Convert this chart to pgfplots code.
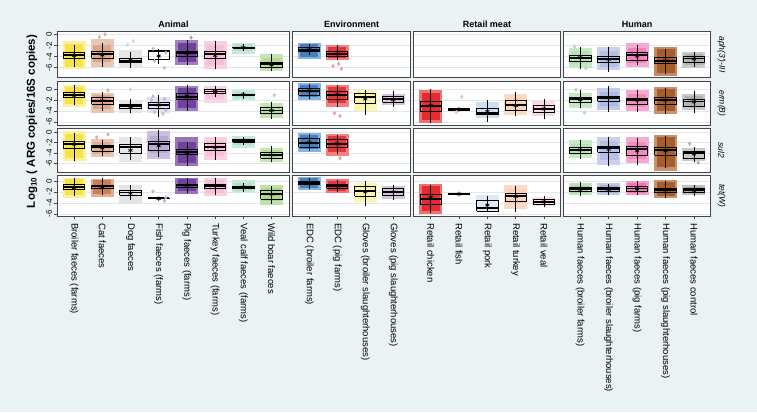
\documentclass[border=0pt]{standalone}
\usepackage{fontspec}
\setmainfont{Liberation Sans}
\usepackage{pgfplots}
\pgfplotsset{compat=1.18}
\definecolor{bgc}{RGB}{234,242,243}
\definecolor{frm}{RGB}{70,70,70}
\definecolor{grd}{RGB}{226,231,233}
\definecolor{cBro}{RGB}{245,222,40}
\definecolor{cCat}{RGB}{190,95,40}
\definecolor{cDog}{RGB}{185,185,185}
\definecolor{cFish}{RGB}{135,115,185}
\definecolor{cPig}{RGB}{95,45,145}
\definecolor{cTur}{RGB}{240,150,190}
\definecolor{cVeal}{RGB}{120,200,160}
\definecolor{cWild}{RGB}{120,185,70}
\definecolor{cEDCb}{RGB}{45,115,185}
\definecolor{cEDCp}{RGB}{225,30,35}
\definecolor{cGlb}{RGB}{250,235,100}
\definecolor{cGlp}{RGB}{175,150,195}
\definecolor{cRch}{RGB}{225,20,25}
\definecolor{cRfi}{RGB}{240,150,130}
\definecolor{cRpo}{RGB}{150,180,220}
\definecolor{cRtu}{RGB}{245,175,130}
\definecolor{cRve}{RGB}{235,165,180}
\definecolor{cHbf}{RGB}{100,185,95}
\definecolor{cHbs}{RGB}{120,140,205}
\definecolor{cHpf}{RGB}{230,45,140}
\definecolor{cHps}{RGB}{160,75,20}
\definecolor{cHco}{RGB}{100,100,100}
\newcommand\xtf{\fontsize{9.5}{10}\selectfont}
\newcommand\ytf{\fontsize{8}{9}\selectfont}
% cloud (halo) and dense core of jittered points: x, colour, low, high
\newcommand{\cloudA}[4]{\addplot[forget plot, draw=#2, line width=23pt] coordinates {(#1,#3) (#1,#4)};}
\newcommand{\cloudB}[4]{\addplot[forget plot, draw=#2, line width=18pt] coordinates {(#1,#3) (#1,#4)};}
% box: x, lower whisker, q1, median, q3, upper whisker, mean
\newcommand{\boxp}[7]{%
  \pgfmathsetmacro\bxL{#1-0.38}\pgfmathsetmacro\bxR{#1+0.38}%
  \addplot[forget plot, black, line width=0.7pt] coordinates {(#1,#2) (#1,#6)};%
  \addplot[forget plot, black, line width=0.8pt, line join=miter] coordinates {(\bxL,#3) (\bxR,#3) (\bxR,#5) (\bxL,#5) (\bxL,#3)};%
  \addplot[forget plot, black, line width=1.8pt] coordinates {(\bxL,#4) (\bxR,#4)};%
  \addplot[forget plot, black, only marks, mark=asterisk, mark size=2.3pt, mark options={line width=0.7pt}] coordinates {(#1,#7)};}
\newcommand{\outl}[2]{\addplot[forget plot, only marks, mark=diamond*, mark size=1.8pt, color=#1] coordinates {#2};}
\pgfplotsset{
 panel/.style={anchor=south west, scale only axis, clip=true,
   axis background/.style={fill=white},
   axis line style={draw=frm, line width=0.9pt},
   ymajorgrids, grid style={draw=grd, line width=0.5pt},
   ytick={-6,-4,-2,0}, xtick=\empty, yticklabels={},
   tick align=outside, major tick length=3.5pt,
   tick style={draw=frm, line width=0.6pt},
   xtick pos=bottom, ytick pos=left,
   ytick style={draw=none}},
 lft/.style={ytick style={draw=frm, line width=0.6pt}, yticklabels={-6,-4,-2,0},
   yticklabel style={rotate=90, anchor=south, font=\ytf, inner sep=2pt}},
 bot/.style={xticklabel style={rotate=-90, anchor=west, font=\xtf, inner sep=3.5pt}},
 c1/.style={xmin=0.42, xmax=8.63, width=231.6pt},
 c2/.style={xmin=0.41, xmax=4.61, width=117.6pt},
 c3/.style={xmin=0.386, xmax=5.59, width=147.4pt},
 c4/.style={xmin=0.42, xmax=5.59, width=147.0pt},
 r1/.style={height=45.5pt, ymin=-7.70, ymax=0.47},
 r2/.style={height=44.3pt, ymin=-6.67, ymax=1.49},
 r3/.style={height=44.0pt, ymin=-7.78, ymax=0.73},
 r4/.style={height=40.3pt, ymin=-6.36, ymax=0.96},
}
\begin{document}
\begin{tikzpicture}
\path[use as bounding box] (0,0) rectangle (757pt,412pt);
\fill[bgc] (0,0) rectangle (757pt,412pt);
% ---------------- Row 1: aph(3')-III
\begin{axis}[panel, c1, r1, lft, at={(57.7pt,334.8pt)}]
\cloudA{1}{cBro!45}{-6.3}{-1.2}\cloudB{1}{cBro!85}{-5.8}{-1.7}\boxp{1}{-5.8}{-4.31}{-3.72}{-3.23}{-1.9}{-3.8}
\cloudA{2}{cCat!35}{-5.9}{-0.9}\cloudB{2}{cCat!55}{-5.0}{-2.0}\outl{cCat!50}{(2.1,0.0) (1.9,-0.5)}\boxp{2}{-5.8}{-4.3}{-3.6}{-3.1}{-1.5}{-3.7}
\cloudA{3}{cDog!35}{-5.9}{-2.8}\outl{cDog!60}{(3.1,-1.2) (2.9,-1.9)}\boxp{3}{-6.0}{-5.1}{-4.75}{-4.25}{-3.1}{-4.6}
\outl{cFish!50}{(4.2,-6.0) (3.8,-2.6) (4.25,-3.3) (3.85,-4.8)}\boxp{4}{-5.3}{-4.5}{-3.0}{-2.8}{-2.6}{-3.9}
\cloudA{5}{cPig!60}{-5.6}{-1.0}\cloudB{5}{cPig!90}{-5.0}{-1.5}\outl{cPig!50}{(5.15,-0.6)}\boxp{5}{-5.5}{-3.9}{-3.35}{-3.0}{-1.0}{-3.4}
\cloudA{6}{cTur!45}{-6.3}{-1.2}\cloudB{6}{cTur!60}{-5.5}{-2.0}\boxp{6}{-6.2}{-4.4}{-3.5}{-3.1}{-1.2}{-3.8}
\cloudA{7}{cVeal!40}{-3.6}{-1.5}\cloudB{7}{cVeal!55}{-3.0}{-1.8}\boxp{7}{-3.0}{-2.5}{-2.4}{-2.3}{-1.8}{-2.4}
\cloudA{8}{cWild!40}{-6.6}{-3.6}\cloudB{8}{cWild!55}{-6.2}{-4.2}\boxp{8}{-6.6}{-6.0}{-5.4}{-4.97}{-3.5}{-5.5}
\end{axis}
\begin{axis}[panel, c2, r1, at={(292.7pt,334.8pt)}]
\cloudA{1}{cEDCb!55}{-4.4}{-1.6}\cloudB{1}{cEDCb!90}{-4.0}{-1.8}\boxp{1}{-3.8}{-3.1}{-2.75}{-2.4}{-1.7}{-2.75}
\cloudA{2}{cEDCp!55}{-4.6}{-1.9}\cloudB{2}{cEDCp!90}{-4.2}{-2.2}\outl{cEDCp!45}{(1.85,-5.7) (2.15,-6.2) (2.05,-5.3)}\boxp{2}{-4.6}{-4.0}{-3.5}{-3.1}{-2.0}{-3.5}
\end{axis}
\begin{axis}[panel, c3, r1, at={(413.3pt,334.8pt)}]
\end{axis}
\begin{axis}[panel, c4, r1, at={(563.7pt,334.8pt)}]
\cloudA{1}{cHbf!35}{-6.0}{-2.4}\cloudB{1}{cHbf!45}{-5.3}{-3.0}\outl{cHbf!50}{(0.8,-2.2) (1.2,-6.1)}\boxp{1}{-6.3}{-4.9}{-4.2}{-3.7}{-2.2}{-4.2}
\cloudA{2}{cHbs!40}{-6.4}{-2.3}\cloudB{2}{cHbs!55}{-5.8}{-3.0}\boxp{2}{-6.8}{-5.1}{-4.5}{-3.9}{-2.3}{-4.5}
\cloudA{3}{cHpf!40}{-5.8}{-1.6}\cloudB{3}{cHpf!60}{-5.2}{-2.4}\boxp{3}{-5.6}{-4.7}{-3.75}{-3.3}{-1.9}{-3.9}
\cloudA{4}{cHps!65}{-7.4}{-2.2}\cloudB{4}{cHps!90}{-7.0}{-2.6}\boxp{4}{-7.2}{-5.3}{-4.8}{-4.1}{-2.6}{-4.7}
\cloudA{5}{cHco!35}{-6.1}{-3.1}\cloudB{5}{cHco!50}{-5.5}{-3.6}\boxp{5}{-5.8}{-5.0}{-4.35}{-4.0}{-3.1}{-4.4}
\end{axis}
% ---------------- Row 2: erm(B)
\begin{axis}[panel, c1, r2, lft, at={(57.7pt,286.5pt)}]
\cloudA{1}{cBro!45}{-3.3}{0.8}\cloudB{1}{cBro!85}{-2.8}{0.4}\boxp{1}{-2.9}{-1.55}{-1.0}{-0.5}{0.7}{-1.1}
\cloudA{2}{cCat!35}{-4.3}{-0.6}\cloudB{2}{cCat!55}{-3.6}{-1.0}\outl{cCat!50}{(2.2,-0.2)}\boxp{2}{-4.0}{-2.75}{-2.1}{-1.55}{-0.5}{-2.1}
\cloudA{3}{cDog!35}{-4.3}{-2.0}\outl{cDog!60}{(3,0.0)}\boxp{3}{-4.4}{-3.55}{-3.15}{-2.75}{-1.85}{-3.2}
\cloudA{4}{cFish!22}{-4.3}{-1.5}\outl{cFish!50}{(3.8,-1.3) (4.2,-1.8) (3.85,-4.2) (4.15,-4.5) (4.25,-3.9) (3.75,-2.0)}\boxp{4}{-5.05}{-3.6}{-2.9}{-2.45}{-1.05}{-2.9}
\cloudA{5}{cPig!60}{-4.0}{0.6}\cloudB{5}{cPig!90}{-3.4}{0.2}\boxp{5}{-4.0}{-1.85}{-1.35}{-0.8}{0.7}{-1.3}
\cloudA{6}{cTur!40}{-2.6}{0.6}\cloudB{6}{cTur!55}{-1.8}{0.3}\boxp{6}{-1.5}{-0.7}{-0.4}{-0.05}{0.6}{-0.4}
\cloudA{7}{cVeal!40}{-2.0}{-0.2}\cloudB{7}{cVeal!55}{-1.6}{-0.5}\boxp{7}{-1.7}{-1.15}{-1.0}{-0.9}{-0.5}{-1.0}
\cloudA{8}{cWild!40}{-5.3}{-2.5}\cloudB{8}{cWild!55}{-4.8}{-3.0}\outl{cWild!55}{(8.1,-1.1)}\boxp{8}{-5.5}{-4.5}{-3.9}{-3.25}{-2.3}{-3.9}
\end{axis}
\begin{axis}[panel, c2, r2, at={(292.7pt,286.5pt)}]
\cloudA{1}{cEDCb!55}{-1.9}{1.1}\cloudB{1}{cEDCb!90}{-1.5}{0.8}\boxp{1}{-1.8}{-1.05}{-0.25}{0.2}{0.9}{-0.3}
\cloudA{2}{cEDCp!55}{-3.2}{0.8}\cloudB{2}{cEDCp!90}{-2.6}{0.5}\outl{cEDCp!45}{(1.9,-4.4) (2.1,-4.9)}\boxp{2}{-3.3}{-1.8}{-1.05}{-0.44}{0.7}{-1.0}
\cloudA{3}{cGlb!50}{-4.0}{-0.2}\boxp{3}{-4.7}{-2.6}{-1.4}{-0.85}{-0.1}{-1.8}
\cloudA{4}{cGlp!55}{-2.9}{-0.9}\boxp{4}{-3.3}{-2.35}{-1.85}{-1.35}{-0.25}{-1.9}
\end{axis}
\begin{axis}[panel, c3, r2, at={(413.3pt,286.5pt)}]
\cloudA{1}{cRch!60}{-6.2}{-0.1}\cloudB{1}{cRch!90}{-5.6}{-0.6}\boxp{1}{-6.2}{-4.1}{-3.1}{-2.3}{0.0}{-3.0}
\outl{cRfi!60}{(2.1,-1.4) (1.9,-4.2)}\boxp{2}{-3.9}{-3.8}{-3.7}{-3.6}{-3.5}{-3.7}
\cloudA{3}{cRpo!45}{-5.3}{-2.3}\boxp{3}{-6.0}{-4.7}{-4.3}{-3.5}{-2.0}{-4.1}
\cloudA{4}{cRtu!45}{-4.8}{-0.8}\cloudB{4}{cRtu!55}{-4.0}{-1.5}\boxp{4}{-5.0}{-3.8}{-2.9}{-2.0}{-0.5}{-3.0}
\cloudA{5}{cRve!40}{-5.0}{-2.0}\boxp{5}{-5.5}{-4.3}{-3.7}{-2.9}{-1.7}{-3.6}
\end{axis}
\begin{axis}[panel, c4, r2, at={(563.7pt,286.5pt)}]
\cloudA{1}{cHbf!35}{-3.4}{-0.6}\outl{cHbf!50}{(0.85,-0.1) (1.15,-4.3)}\boxp{1}{-3.5}{-2.35}{-1.85}{-1.55}{-0.1}{-1.9}
\cloudA{2}{cHbs!45}{-3.8}{0.3}\cloudB{2}{cHbs!60}{-3.0}{-0.5}\boxp{2}{-4.1}{-2.25}{-1.55}{-1.35}{0.6}{-1.6}
\cloudA{3}{cHpf!40}{-4.0}{-0.2}\cloudB{3}{cHpf!55}{-3.3}{-0.8}\boxp{3}{-4.1}{-2.75}{-1.95}{-1.65}{-0.1}{-2.0}
\cloudA{4}{cHps!60}{-4.6}{0.4}\cloudB{4}{cHps!90}{-4.0}{0.0}\boxp{4}{-4.6}{-2.75}{-1.95}{-1.55}{0.3}{-2.0}
\cloudA{5}{cHco!35}{-3.8}{-0.8}\cloudB{5}{cHco!50}{-3.2}{-1.3}\boxp{5}{-4.3}{-3.1}{-2.25}{-1.8}{-0.4}{-2.3}
\end{axis}
% ---------------- Row 3: sul2
\begin{axis}[panel, c1, r3, lft, at={(57.7pt,239.5pt)}]
\cloudA{1}{cBro!45}{-5.6}{0.3}\cloudB{1}{cBro!85}{-5.0}{-0.3}\boxp{1}{-5.5}{-3.1}{-2.2}{-1.68}{-0.07}{-2.3}
\cloudA{2}{cCat!35}{-4.8}{-1.3}\cloudB{2}{cCat!50}{-4.2}{-1.8}\outl{cCat!50}{(2.2,-0.4) (1.8,-1.0)}\boxp{2}{-4.6}{-3.68}{-2.9}{-2.45}{-1.5}{-3.0}
\cloudA{3}{cDog!35}{-5.8}{-1.0}\boxp{3}{-5.4}{-4.05}{-2.9}{-2.3}{-0.85}{-3.5}
\cloudA{4}{cFish!45}{-5.2}{0.2}\cloudB{4}{cFish!60}{-4.0}{-0.8}\boxp{4}{-4.8}{-3.55}{-2.3}{-1.8}{0.45}{-2.6}
\cloudA{5}{cPig!65}{-6.5}{-1.0}\cloudB{5}{cPig!90}{-6.0}{-1.8}\boxp{5}{-6.6}{-4.35}{-3.85}{-3.3}{-1.8}{-3.9}
\cloudA{6}{cTur!45}{-5.4}{-1.0}\cloudB{6}{cTur!60}{-4.5}{-1.6}\boxp{6}{-5.4}{-3.55}{-2.9}{-2.1}{-0.85}{-2.9}
\cloudA{7}{cVeal!40}{-3.0}{-0.8}\cloudB{7}{cVeal!55}{-2.5}{-1.1}\boxp{7}{-2.4}{-1.95}{-1.7}{-1.4}{-0.85}{-1.7}
\cloudA{8}{cWild!40}{-5.8}{-3.0}\cloudB{8}{cWild!55}{-5.2}{-3.5}\boxp{8}{-5.8}{-5.0}{-4.4}{-3.8}{-2.7}{-4.4}
\end{axis}
\begin{axis}[panel, c2, r3, at={(292.7pt,239.5pt)}]
\cloudA{1}{cEDCb!55}{-3.9}{-0.2}\cloudB{1}{cEDCb!90}{-3.3}{-0.6}\boxp{1}{-3.6}{-2.85}{-2.0}{-1.1}{-0.4}{-2.0}
\cloudA{2}{cEDCp!55}{-4.6}{-0.35}\cloudB{2}{cEDCp!90}{-3.9}{-0.8}\outl{cEDCp!45}{(2.1,-5.0)}\boxp{2}{-4.2}{-3.0}{-2.3}{-1.3}{-0.5}{-2.2}
\end{axis}
\begin{axis}[panel, c3, r3, at={(413.3pt,239.5pt)}]
\end{axis}
\begin{axis}[panel, c4, r3, at={(563.7pt,239.5pt)}]
\cloudA{1}{cHbf!35}{-5.0}{-1.4}\cloudB{1}{cHbf!45}{-4.4}{-2.3}\boxp{1}{-5.2}{-4.05}{-3.4}{-2.95}{-1.5}{-3.4}
\cloudA{2}{cHbs!40}{-6.4}{-0.9}\cloudB{2}{cHbs!55}{-5.4}{-1.6}\boxp{2}{-6.5}{-3.85}{-3.1}{-2.65}{-1.0}{-3.3}
\cloudA{3}{cHpf!40}{-6.0}{-1.0}\cloudB{3}{cHpf!55}{-5.2}{-1.8}\boxp{3}{-6.3}{-4.4}{-3.3}{-2.75}{-1.2}{-3.6}
\cloudA{4}{cHps!60}{-7.4}{-0.5}\cloudB{4}{cHps!90}{-6.8}{-1.0}\boxp{4}{-7.0}{-4.4}{-3.4}{-2.9}{-0.7}{-3.6}
\cloudA{5}{cHco!35}{-5.6}{-3.0}\outl{cHco!50}{(4.85,-2.2) (5.15,-5.9)}\boxp{5}{-5.7}{-5.0}{-4.05}{-3.75}{-2.8}{-4.2}
\end{axis}
% ---------------- Row 4: tet(W)
\begin{axis}[panel, c1, r4, lft, bot, at={(57.7pt,196.0pt)}, xtick={1,2,3,4,5,6,7,8},
  xticklabels={Broiler faeces (farms), Cat faeces, Dog faeces, Fish faeces (farms), Pig faeces (farms), Turkey faeces (farms), Veal calf faeces (farms), Wild boar faeces}]
\cloudA{1}{cBro!45}{-3.1}{0.6}\cloudB{1}{cBro!85}{-2.6}{0.3}\boxp{1}{-2.7}{-1.5}{-1.1}{-0.67}{0.5}{-1.2}
\cloudA{2}{cCat!50}{-2.9}{0.4}\cloudB{2}{cCat!80}{-2.4}{0.1}\boxp{2}{-2.5}{-1.4}{-1.0}{-0.73}{0.5}{-1.1}
\cloudA{3}{cDog!40}{-4.2}{-0.8}\boxp{3}{-3.4}{-2.55}{-2.1}{-1.65}{-0.7}{-2.2}
\outl{cFish!55}{(3.8,-1.9) (4.2,-3.6) (4.25,-3.0)}\boxp{4}{-3.25}{-3.2}{-3.15}{-3.1}{-3.05}{-3.2}
\cloudA{5}{cPig!65}{-2.3}{0.6}\cloudB{5}{cPig!90}{-1.9}{0.4}\boxp{5}{-2.1}{-1.15}{-0.75}{-0.55}{0.5}{-0.8}
\cloudA{6}{cTur!45}{-2.8}{0.5}\cloudB{6}{cTur!60}{-2.2}{0.1}\boxp{6}{-2.5}{-1.35}{-0.9}{-0.55}{0.5}{-0.85}
\cloudA{7}{cVeal!40}{-2.2}{0.1}\cloudB{7}{cVeal!55}{-1.8}{-0.3}\boxp{7}{-2.0}{-1.4}{-1.1}{-0.9}{-0.4}{-1.1}
\cloudA{8}{cWild!45}{-4.4}{-0.8}\cloudB{8}{cWild!60}{-3.6}{-1.3}\boxp{8}{-4.2}{-3.3}{-2.3}{-1.8}{-0.9}{-2.4}
\end{axis}
\begin{axis}[panel, c2, r4, bot, at={(292.7pt,196.0pt)}, xtick={1,2,3,4},
  xticklabels={EDC (broiler farms), EDC (pig farms), Gloves (broiler slaughterhouses), Gloves (pig slaughterhouses)}]
\cloudA{1}{cEDCb!55}{-1.7}{0.8}\cloudB{1}{cEDCb!90}{-1.3}{0.5}\boxp{1}{-1.4}{-0.7}{-0.35}{-0.1}{0.6}{-0.4}
\cloudA{2}{cEDCp!60}{-2.2}{0.3}\cloudB{2}{cEDCp!90}{-1.8}{0.0}\boxp{2}{-2.0}{-1.3}{-0.9}{-0.6}{0.1}{-0.9}
\cloudA{3}{cGlb!50}{-3.8}{-0.3}\boxp{3}{-4.6}{-2.8}{-1.8}{-0.9}{0.0}{-2.0}
\cloudA{4}{cGlp!55}{-3.2}{-1.0}\boxp{4}{-3.4}{-2.7}{-2.0}{-1.3}{-0.8}{-2.0}
\end{axis}
\begin{axis}[panel, c3, r4, bot, at={(413.3pt,196.0pt)}, xtick={1,2,3,4,5},
  xticklabels={Retail chicken, Retail fish, Retail pork, Retail turkey, Retail veal}]
\cloudA{1}{cRch!60}{-6.0}{-0.5}\cloudB{1}{cRch!90}{-5.4}{-1.0}\boxp{1}{-5.9}{-4.24}{-3.27}{-2.36}{-0.73}{-3.0}
\boxp{2}{-2.42}{-2.42}{-2.36}{-2.3}{-2.3}{-2.36}
\cloudA{3}{cRpo!30}{-5.4}{-2.6}\boxp{3}{-5.5}{-5.5}{-4.97}{-3.45}{-2.7}{-4.36}
\cloudA{4}{cRtu!45}{-5.0}{-0.8}\cloudB{4}{cRtu!55}{-4.2}{-1.4}\boxp{4}{-5.6}{-3.64}{-2.73}{-2.24}{-1.0}{-2.8}
\cloudA{5}{cRve!35}{-4.6}{-3.0}\boxp{5}{-4.8}{-4.18}{-3.76}{-3.33}{-2.8}{-3.8}
\end{axis}
\begin{axis}[panel, c4, r4, bot, at={(563.7pt,196.0pt)}, xtick={1,2,3,4,5},
  xticklabels={Human faeces (broiler farms), Human faeces (broiler slaughterhouses), Human faeces (pig farms), Human faeces (pig slaughterhouses), Human faeces control}]
\cloudA{1}{cHbf!40}{-2.6}{-0.3}\cloudB{1}{cHbf!55}{-2.2}{-0.7}\boxp{1}{-2.8}{-1.82}{-1.45}{-1.15}{-0.2}{-1.5}
\cloudA{2}{cHbs!45}{-2.5}{-0.4}\cloudB{2}{cHbs!65}{-2.2}{-0.7}\boxp{2}{-2.6}{-1.94}{-1.5}{-1.2}{-0.5}{-1.55}
\cloudA{3}{cHpf!45}{-2.6}{0.0}\cloudB{3}{cHpf!65}{-2.2}{-0.3}\boxp{3}{-2.6}{-1.88}{-1.35}{-0.9}{0.0}{-1.4}
\cloudA{4}{cHps!60}{-3.0}{0.1}\cloudB{4}{cHps!90}{-2.7}{-0.2}\boxp{4}{-3.0}{-2.12}{-1.6}{-1.33}{0.0}{-1.65}
\cloudA{5}{cHco!40}{-2.5}{-0.8}\cloudB{5}{cHco!55}{-2.2}{-1.1}\boxp{5}{-2.8}{-2.12}{-1.7}{-1.33}{-0.7}{-1.7}
\end{axis}
% ---------------- titles
\node[font=\bfseries\fontsize{9}{10}\selectfont] at (173.5pt,388pt) {Animal};
\node[font=\bfseries\fontsize{9}{10}\selectfont] at (351.5pt,388pt) {Environment};
\node[font=\bfseries\fontsize{9}{10}\selectfont] at (487pt,388pt) {Retail meat};
\node[font=\bfseries\fontsize{9}{10}\selectfont] at (637.2pt,388pt) {Human};
\node[font=\itshape\fontsize{8.5}{10}\selectfont, rotate=-90] at (721.5pt,357.5pt) {aph(3')-III};
\node[font=\itshape\fontsize{8.5}{10}\selectfont, rotate=-90] at (721.5pt,308.6pt) {erm(B)};
\node[font=\itshape\fontsize{8.5}{10}\selectfont, rotate=-90] at (721.5pt,261.5pt) {sul2};
\node[font=\itshape\fontsize{8.5}{10}\selectfont, rotate=-90] at (721.5pt,216.1pt) {tet(W)};
\node[font=\bfseries\fontsize{11.5}{12}\selectfont, rotate=90] at (32pt,290.5pt) {Log\textsubscript{10} ( ARG copies/16S copies)};
\end{tikzpicture}
\end{document}
